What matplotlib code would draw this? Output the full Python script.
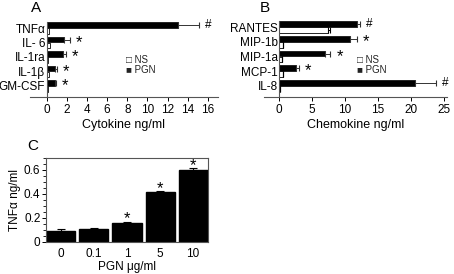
import matplotlib
matplotlib.use("Agg")
import matplotlib.pyplot as plt
import numpy as np
from matplotlib.ticker import MultipleLocator

plt.rcParams["font.family"] = ["Liberation Sans", "DejaVu Sans"]
plt.rcParams["font.size"] = 8.5

# Panel A - cytokines
cyto_labels = ["TNF\u03b1", "IL- 6", "IL-1ra", "IL-1\u03b2", "GM-CSF"]
cyto_pgn = [13.05, 1.7, 1.6, 0.8, 0.8]
cyto_pgn_err = [2.05, 0.6, 0.3, 0.25, 0.15]
cyto_ns = [0.2, 0.35, 0.12, 0.2, 0.15]
cyto_marks = ["#", "*", "*", "*", "*"]

# Panel B - chemokines
chemo_labels = ["RANTES", "MIP-1b", "MIP-1a", "MCP-1", "IL-8"]
chemo_pgn = [11.8, 10.8, 6.9, 2.55, 20.6]
chemo_pgn_err = [0.5, 1.0, 0.9, 0.5, 3.2]
chemo_ns = [7.4, 0.6, 0.5, 0.6, 0.15]
chemo_ns_err = [0.3, 0.0, 0.0, 0.0, 0.0]
chemo_marks = ["#", "*", "*", "*", "#"]

# Panel C - TNFa dose response
dose_labels = ["0", "0.1", "1", "5", "10"]
tnf_vals = [0.095, 0.105, 0.155, 0.415, 0.600]
tnf_err = [0.012, 0.008, 0.015, 0.010, 0.015]
tnf_marks = ["", "", "*", "*", "*"]

W, H = 454, 274
fig = plt.figure(figsize=(W / 100, H / 100), dpi=100)

STAR = 12


def px_axes(left, top, right, bottom):
    return fig.add_axes([left / W, 1 - bottom / H, (right - left) / W, (bottom - top) / H])


def hbar_panel(ax, labels, pgn, pgn_err, ns, ns_err, marks, xlim, xticks, xlabel):
    y = np.arange(len(labels))[::-1]
    h = 0.38
    ax.barh(y + 0.2, pgn, height=h, color="black", edgecolor="black", linewidth=0.5)
    ax.errorbar(pgn, y + 0.2, xerr=[np.zeros(len(pgn)), pgn_err], fmt="none",
                ecolor="#333333", elinewidth=0.7, capsize=2, capthick=0.8)
    ax.barh(y - 0.2, ns, height=h, color="white", edgecolor="black", linewidth=0.6)
    if ns_err is not None:
        ax.errorbar(ns, y - 0.2, xerr=[np.zeros(len(ns)), ns_err], fmt="none",
                    ecolor="black", elinewidth=0.7, capsize=2, capthick=0.8)
    for yi, v, e, m in zip(y, pgn, pgn_err, marks):
        if m == "#":
            ax.annotate(m, xy=(v + e, yi + 0.2), xytext=(6.5, 0), textcoords="offset points",
                        ha="center", va="center", fontsize=8.5)
        else:
            ax.annotate(m, xy=(v + e, yi + 0.2), xytext=(6.5, -2),
                        textcoords="offset points", ha="center", va="center", fontsize=STAR)
    ax.set_xlim(*xlim)
    ax.set_ylim(-0.77, 4.42)
    ax.set_yticks(y)
    ax.set_yticklabels(labels, fontsize=8)
    ax.tick_params(axis="y", length=0, pad=1)
    ax.tick_params(axis="x", length=3, width=0.7, pad=2, labelsize=8.5)
    ax.set_xticks(xticks)
    ax.set_xlabel(xlabel, fontsize=9, labelpad=2)
    ax.spines["left"].set_position(("data", 0))
    ax.spines["top"].set_visible(False)
    ax.spines["right"].set_visible(False)
    for s in ["left", "bottom"]:
        ax.spines[s].set_linewidth(0.8)
        ax.spines[s].set_color("#555555")


axA = px_axes(30, 22, 218, 97)
hbar_panel(axA, cyto_labels, cyto_pgn, cyto_pgn_err, cyto_ns, None, cyto_marks,
           (-1.66, 17.0), np.arange(0, 17, 2), "Cytokine ng/ml")

axB = px_axes(264, 21, 447, 97)
hbar_panel(axB, chemo_labels, chemo_pgn, chemo_pgn_err, chemo_ns, chemo_ns_err, chemo_marks,
           (-2.3, 25.5), np.arange(0, 26, 5), "Chemokine ng/ml")

# legends
for x0 in (126, 357):
    fig.text(x0 / W, 1 - 60 / H, "\u25a1 NS", fontsize=7, va="center", color="#222222")
    fig.text(x0 / W, 1 - 70 / H, "\u25a0 PGN", fontsize=7, va="center", color="#222222")

axC = px_axes(46, 158, 208, 242)
x = np.arange(len(dose_labels))
axC.bar(x, tnf_vals, width=0.88, color="black", edgecolor="black")
axC.errorbar(x, tnf_vals, yerr=[np.zeros(len(x)), tnf_err], fmt="none",
             ecolor="black", elinewidth=0.8, capsize=3, capthick=0.8)
for xi, v, e, m in zip(x, tnf_vals, tnf_err, tnf_marks):
    if m:
        axC.annotate(m, xy=(xi, v + e), xytext=(0, 2),
                     textcoords="offset points", ha="center", va="center", fontsize=STAR)
axC.set_xlim(-0.45, 4.45)
axC.set_ylim(0, 0.70)
axC.set_xticks(x)
axC.set_xticklabels(dose_labels)
axC.set_yticks([0, 0.2, 0.4, 0.6])
axC.set_yticklabels(["0", "0.2", "0.4", "0.6"])
axC.yaxis.set_minor_locator(MultipleLocator(0.05))
axC.tick_params(axis="x", length=0, pad=4)
axC.tick_params(axis="y", which="major", length=3, width=0.7, pad=1)
axC.tick_params(axis="y", which="minor", length=2, width=0.6)
axC.set_ylabel("TNF\u03b1 ng/ml", labelpad=2)
axC.set_xlabel("PGN \u03bcg/ml", labelpad=1)
for s in axC.spines.values():
    s.set_linewidth(0.8)
    s.set_color("#555555")

fig.text(36 / W, 1 - 8 / H, "A", fontsize=11, ha="center", va="center")
fig.text(265 / W, 1 - 8 / H, "B", fontsize=11, ha="center", va="center")
fig.text(33 / W, 1 - 146 / H, "C", fontsize=11, ha="center", va="center")

fig.savefig("out.png", dpi=100)
